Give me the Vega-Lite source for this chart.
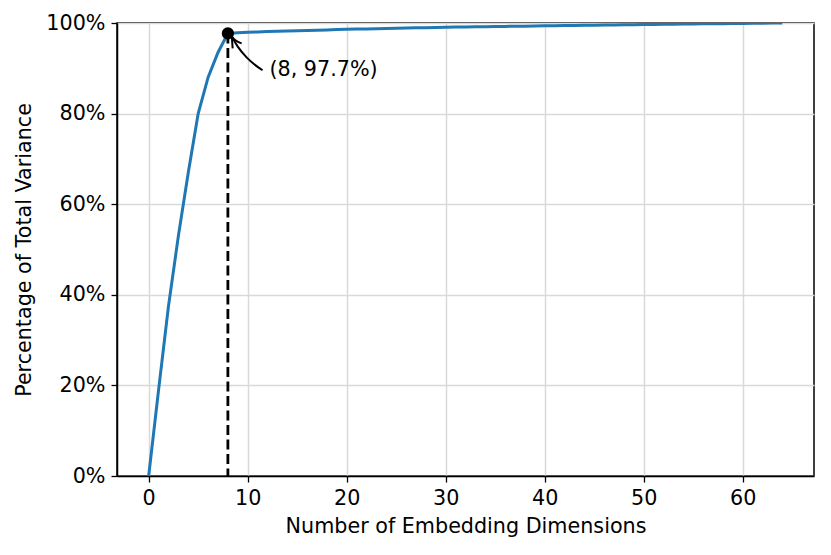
{
  "$schema": "https://vega.github.io/schema/vega-lite/v6.json",
  "width": 697,
  "height": 453,
  "autosize": "none",
  "padding": {"left": 117, "top": 23, "right": 17, "bottom": 79},
  "background": "white",
  "config": {
    "view": {"stroke": "black", "strokeWidth": 1.5},
    "font": "DejaVu Sans",
    "axis": {
      "labelFont": "DejaVu Sans",
      "titleFont": "DejaVu Sans",
      "labelFontSize": 20.7,
      "titleFontSize": 20.7,
      "titleFontWeight": "normal",
      "labelColor": "black",
      "titleColor": "black",
      "domainColor": "black",
      "domainWidth": 1.5,
      "tickColor": "black",
      "tickWidth": 1.3,
      "tickSize": 6,
      "labelPadding": 6,
      "gridColor": "#d9d9d9",
      "gridWidth": 1.5
    }
  },
  "datasets": {
    "curve": [
      {"dims": 0, "variance": 0.0},
      {"dims": 1, "variance": 0.19},
      {"dims": 2, "variance": 0.375},
      {"dims": 3, "variance": 0.53},
      {"dims": 4, "variance": 0.67},
      {"dims": 5, "variance": 0.80},
      {"dims": 6, "variance": 0.88},
      {"dims": 7, "variance": 0.935},
      {"dims": 8, "variance": 0.977},
      {"dims": 9, "variance": 0.9785},
      {"dims": 10, "variance": 0.9795},
      {"dims": 11, "variance": 0.9803},
      {"dims": 12, "variance": 0.981},
      {"dims": 13, "variance": 0.9817},
      {"dims": 14, "variance": 0.9824},
      {"dims": 15, "variance": 0.983},
      {"dims": 16, "variance": 0.9836},
      {"dims": 17, "variance": 0.9842},
      {"dims": 18, "variance": 0.9848},
      {"dims": 19, "variance": 0.9854},
      {"dims": 20, "variance": 0.986},
      {"dims": 21, "variance": 0.9865},
      {"dims": 22, "variance": 0.987},
      {"dims": 23, "variance": 0.9875},
      {"dims": 24, "variance": 0.988},
      {"dims": 25, "variance": 0.9885},
      {"dims": 26, "variance": 0.9889},
      {"dims": 27, "variance": 0.9893},
      {"dims": 28, "variance": 0.9897},
      {"dims": 29, "variance": 0.9901},
      {"dims": 30, "variance": 0.9905},
      {"dims": 31, "variance": 0.9909},
      {"dims": 32, "variance": 0.9912},
      {"dims": 33, "variance": 0.9916},
      {"dims": 34, "variance": 0.9919},
      {"dims": 35, "variance": 0.9922},
      {"dims": 36, "variance": 0.9925},
      {"dims": 37, "variance": 0.9928},
      {"dims": 38, "variance": 0.9931},
      {"dims": 39, "variance": 0.9934},
      {"dims": 40, "variance": 0.9937},
      {"dims": 41, "variance": 0.994},
      {"dims": 42, "variance": 0.9943},
      {"dims": 43, "variance": 0.9946},
      {"dims": 44, "variance": 0.9949},
      {"dims": 45, "variance": 0.9952},
      {"dims": 46, "variance": 0.9955},
      {"dims": 47, "variance": 0.9957},
      {"dims": 48, "variance": 0.996},
      {"dims": 49, "variance": 0.9963},
      {"dims": 50, "variance": 0.9966},
      {"dims": 51, "variance": 0.9968},
      {"dims": 52, "variance": 0.9971},
      {"dims": 53, "variance": 0.9974},
      {"dims": 54, "variance": 0.9976},
      {"dims": 55, "variance": 0.9979},
      {"dims": 56, "variance": 0.9981},
      {"dims": 57, "variance": 0.9984},
      {"dims": 58, "variance": 0.9986},
      {"dims": 59, "variance": 0.9989},
      {"dims": 60, "variance": 0.9991},
      {"dims": 61, "variance": 0.9994},
      {"dims": 62, "variance": 0.9996},
      {"dims": 63, "variance": 0.9998},
      {"dims": 64, "variance": 1.0}
    ],
    "marker": [
      {"dims": 8, "variance": 0.977, "label": "(8, 97.7%)", "lx": 12.2, "ly": 0.8956}
    ],
    "arrow": [
      {"part": "shaft", "order": 0, "ax": 11.5, "ay": 0.8956},
      {"part": "shaft", "order": 1, "ax": 9.89, "ay": 0.924},
      {"part": "shaft", "order": 2, "ax": 8.98, "ay": 0.9485},
      {"part": "shaft", "order": 3, "ax": 8.37, "ay": 0.9706},
      {"part": "head", "order": 0, "ax": 8.48, "ay": 0.944},
      {"part": "head", "order": 1, "ax": 8.37, "ay": 0.9706},
      {"part": "head", "order": 2, "ax": 9.39, "ay": 0.955}
    ]
  },
  "layer": [
    {
      "data": {"name": "curve"},
      "mark": {"type": "line", "color": "#1f77b4", "strokeWidth": 3, "clip": true},
      "encoding": {
        "x": {
          "field": "dims", "type": "quantitative",
          "scale": {"domain": [-3.2, 67.2], "nice": false, "zero": false},
          "axis": {"values": [0, 10, 20, 30, 40, 50, 60], "title": "Number of Embedding Dimensions", "titlePadding": 9, "grid": true}
        },
        "y": {
          "field": "variance", "type": "quantitative",
          "scale": {"domain": [0, 1], "nice": false},
          "axis": {"values": [0, 0.2, 0.4, 0.6, 0.8, 1.0], "format": ".0%", "title": "Percentage of Total Variance", "titlePadding": 11, "grid": true}
        }
      }
    },
    {
      "data": {"name": "marker"},
      "mark": {"type": "rule", "color": "black", "strokeWidth": 2.8, "strokeDash": [10, 4.5]},
      "encoding": {
        "x": {"field": "dims", "type": "quantitative"},
        "y": {"field": "variance", "type": "quantitative"},
        "y2": {"datum": 0}
      }
    },
    {
      "data": {"name": "marker"},
      "mark": {"type": "point", "filled": true, "color": "black", "opacity": 1, "size": 150},
      "encoding": {
        "x": {"field": "dims", "type": "quantitative"},
        "y": {"field": "variance", "type": "quantitative"}
      }
    },
    {
      "data": {"name": "arrow"},
      "mark": {"type": "line", "color": "black", "strokeWidth": 2, "interpolate": "monotone"},
      "encoding": {
        "x": {"field": "ax", "type": "quantitative"},
        "y": {"field": "ay", "type": "quantitative"},
        "detail": {"field": "part"},
        "order": {"field": "order"}
      }
    },
    {
      "data": {"name": "marker"},
      "mark": {"type": "text", "align": "left", "baseline": "middle", "fontSize": 20.7, "font": "DejaVu Sans", "color": "black"},
      "encoding": {
        "x": {"field": "lx", "type": "quantitative"},
        "y": {"field": "ly", "type": "quantitative"},
        "text": {"field": "label"}
      }
    }
  ]
}
